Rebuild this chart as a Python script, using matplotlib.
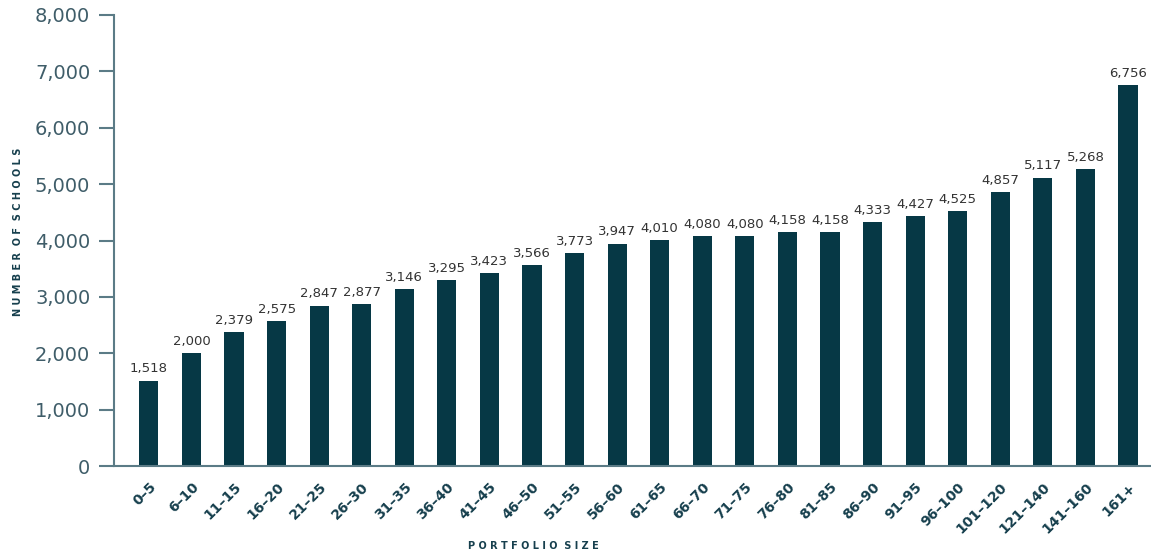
import matplotlib.pyplot as plt

# Portfolio size buckets and number of schools
categories = ['0–5', '6–10', '11–15', '16–20', '21–25', '26–30', '31–35', '36–40',
              '41–45', '46–50', '51–55', '56–60', '61–65', '66–70', '71–75', '76–80',
              '81–85', '86–90', '91–95', '96–100', '101–120', '121–140', '141–160', '161+']
schools = [1518, 2000, 2379, 2575, 2847, 2877, 3146, 3295, 3423, 3566, 3773, 3947,
           4010, 4080, 4080, 4158, 4158, 4333, 4427, 4525, 4857, 5117, 5268, 6756]
yticks = [0, 1000, 2000, 3000, 4000, 5000, 6000, 7000, 8000]

bar_color = '#063845'
axis_color = '#5b7b86'
text_color = '#3f5d69'
label_color = '#163f4d'

fig = plt.figure(figsize=(11.51, 5.51), dpi=100)
ax = fig.add_axes([0.099, 0.154, 0.901, 0.819])

x = range(len(categories))
ax.bar(x, schools, width=0.45, color=bar_color, zorder=2)

for i, v in enumerate(schools):
    ax.text(i, v + 90, f"{v:,}", ha='center', va='bottom', fontsize=9.5, color='#333333')

ax.set_xlim(-0.82, len(categories) - 0.46)
ax.set_ylim(0, 8000)
ax.set_yticks(yticks)
ax.set_yticklabels([f"{t:,}" for t in yticks], fontsize=14, color=text_color)
ax.set_xticks(list(x))
ax.set_xticklabels(categories, rotation=45, ha='right', rotation_mode='anchor',
                   fontsize=10, fontweight='bold', color=label_color)

for s in ['top', 'right']:
    ax.spines[s].set_visible(False)
for s in ['left', 'bottom']:
    ax.spines[s].set_color(axis_color)
    ax.spines[s].set_linewidth(1.5)

ax.tick_params(axis='y', length=11, width=1.5, color=axis_color, pad=6)
ax.tick_params(axis='x', length=0, pad=10)

ax.set_ylabel('N U M B E R  O F  S C H O O L S', fontsize=7, fontweight='bold',
              color=label_color)
ax.set_xlabel('P O R T F O L I O  S I Z E', fontsize=7, fontweight='bold',
              color=label_color)
ax.yaxis.set_label_coords(-0.088, 0.52)
ax.xaxis.set_label_coords(0.404, -0.165)

fig.savefig('out.png', dpi=100)
